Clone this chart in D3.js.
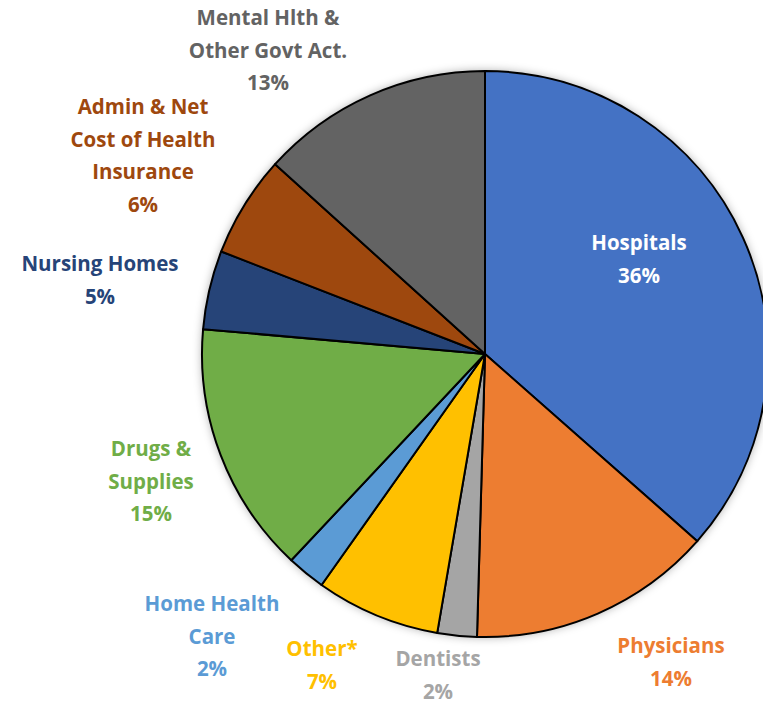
<!DOCTYPE html>
<html>
<head>
<meta charset="utf-8">
<script src="https://cdn.jsdelivr.net/npm/d3@7"></script>
<style>
  body { margin: 0; background: #fff; }
  svg text { font-family: "Open Sans", Lato, sans-serif; font-weight: bold; }
</style>
</head>
<body>
<svg id="pie"></svg>
<script>
const width = 763;
const height = 704;

// slices, clockwise from 12 o'clock
const categories = ["Hospitals", "Physicians", "Dentists", "Other*", "Home Health Care",
  "Drugs & Supplies", "Nursing Homes", "Admin & Net Cost of Health Insurance", "Mental Hlth & Other Govt Act."];
const values = [36.5, 13.95, 2.25, 7.1, 2.2, 14.4, 4.5, 5.8, 13.3];
const pctLabels = ["36%", "14%", "2%", "7%", "2%", "15%", "5%", "6%", "13%"];
const labelLines = [
  ["Hospitals"], ["Physicians"], ["Dentists"], ["Other*"], ["Home Health", "Care"],
  ["Drugs &", "Supplies"], ["Nursing Homes"], ["Admin & Net", "Cost of Health", "Insurance"],
  ["Mental Hlth &", "Other Govt Act."]
];
const colors = ["#4472C4", "#ED7D31", "#A5A5A5", "#FFC000", "#5B9BD5", "#70AD47", "#264478", "#9E480E", "#636363"];
const labelColors = ["#ffffff", "#ED7D31", "#A5A5A5", "#FFC000", "#5B9BD5", "#70AD47", "#264478", "#9E480E", "#636363"];
// label anchor (first line centre) in pixels
const labelPos = [[639, 243], [671, 646], [438, 659], [322, 649], [212, 604], [151, 449], [100, 264], [143, 107], [268, 18]];

const cx = 485, cy = 354, r = 283;
const lineH = 32.5;

const svg = d3.select("#pie")
  .attr("width", width)
  .attr("height", height)
  .attr("viewBox", [0, 0, width, height]);

const defs = svg.append("defs");
const f = defs.append("filter").attr("id", "shadow")
  .attr("x", "-20%").attr("y", "-20%").attr("width", "140%").attr("height", "140%");
f.append("feDropShadow").attr("dx", 0).attr("dy", 0)
  .attr("stdDeviation", 5).attr("flood-color", "#000").attr("flood-opacity", 0.35);

const pie = d3.pie().sort(null).value(d => d);
const arcs = pie(values);
const arc = d3.arc().innerRadius(0).outerRadius(r);

const g = svg.append("g").attr("transform", `translate(${cx},${cy})`);

// shadow disc behind the slices
g.append("circle").attr("r", r).attr("fill", "#fff").attr("filter", "url(#shadow)");

g.selectAll("path")
  .data(arcs)
  .join("path")
  .attr("d", arc)
  .attr("fill", (d, i) => colors[i])
  .attr("stroke", "#000")
  .attr("stroke-width", 2)
  .attr("stroke-linejoin", "round");

// labels
const labels = svg.append("g")
  .selectAll("text")
  .data(categories)
  .join("text")
  .attr("text-anchor", "middle")
  .attr("font-size", 20.5)
  .attr("fill", (d, i) => labelColors[i]);

labels.each(function(d, i) {
  const t = d3.select(this);
  const lines = labelLines[i].concat([pctLabels[i]]);
  lines.forEach((ln, k) => {
    t.append("tspan")
      .attr("x", labelPos[i][0])
      .attr("y", labelPos[i][1] + k * lineH)
      .attr("dy", "0.35em")
      .text(ln);
  });
});
</script>
</body>
</html>
